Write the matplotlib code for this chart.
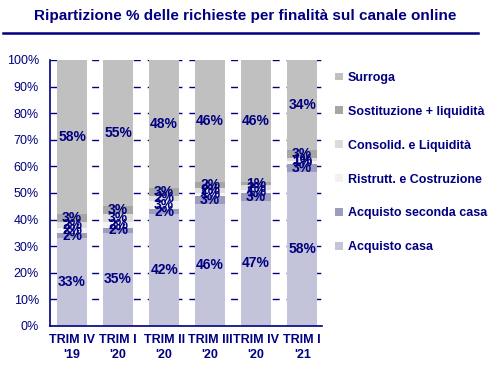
import matplotlib.pyplot as plt
from matplotlib.lines import Line2D
from matplotlib.ticker import PercentFormatter
import numpy as np

plt.rcParams["font.family"] = ["Liberation Sans", "DejaVu Sans"]
navy = "#000080"

quarters = ["TRIM IV\n'19", "TRIM I\n'20", "TRIM II\n'20", "TRIM III\n'20", "TRIM IV\n'20", "TRIM I\n'21"]
categories = ["Acquisto casa", "Acquisto seconda casa", "Ristrutt. e Costruzione",
              "Consolid. e Liquidità", "Sostituzione + liquidità", "Surroga"]
acquisto_casa = [33, 35, 42, 46, 47, 58]
seconda_casa = [2, 2, 2, 3, 3, 3]
ristrutt = [2, 2, 3, 1, 1, 1]
consolid = [2, 3, 2, 2, 2, 1]
sostituzione = [3, 3, 3, 2, 1, 3]
surroga = [58, 55, 48, 46, 46, 34]
series = [acquisto_casa, seconda_casa, ristrutt, consolid, sostituzione, surroga]
colors = ["#c3c3d9", "#9c9cbd", "#f2f2f2", "#dcdcdc", "#a6a6a6", "#c0c0c0"]

fig = plt.figure(figsize=(5, 3.7), dpi=100)
ax = fig.add_axes([0.10, 0.119, 0.544, 0.719])

x = np.arange(len(quarters))
bottom = np.zeros(len(quarters))
handles = []
for vals, col, name in zip(series, colors, categories):
    bars = ax.bar(x, vals, 0.65, bottom=bottom, color=col, label=name, zorder=2)
    handles.append(bars)
    for xi, b, v in zip(x, bottom, vals):
        ax.text(xi, b + v / 2, f"{v}%", ha="center", va="center", color=navy,
                fontsize=10, fontweight="bold", zorder=3)
    bottom += np.array(vals)

ax.set_xlim(-0.48, 5.43)
ax.set_ylim(0, 100)
ax.set_yticks(range(0, 101, 10))
ax.yaxis.set_major_formatter(PercentFormatter(decimals=0))
ax.set_xticks(x)
ax.set_xticklabels(quarters, fontsize=9, fontweight="bold", color=navy, linespacing=1.3)
ax.tick_params(axis="y", labelsize=9, labelcolor=navy, length=0, pad=8)
ax.tick_params(axis="x", length=0, pad=6)
ax.grid(axis="y", color=navy, linestyle=(0, (5, 5)), linewidth=1, zorder=0)
ax.set_axisbelow(True)
for s in ["top", "right"]:
    ax.spines[s].set_visible(False)
for s in ["left", "bottom"]:
    ax.spines[s].set_color(navy)
    ax.spines[s].set_linewidth(1.2)

leg = fig.legend(handles[::-1], categories[::-1], loc="upper left",
                 bbox_to_anchor=(0.648, 0.836), frameon=False,
                 handlelength=0.6, handleheight=0.6, handletextpad=0.4,
                 labelspacing=1.75, prop={"size": 9, "weight": "bold"})
for t in leg.get_texts():
    t.set_color(navy)

fig.text(0.49, 0.958, "Ripartizione % delle richieste per finalità sul canale online",
         ha="center", va="center", fontsize=11, fontweight="bold", color=navy)
fig.add_artist(Line2D([0.005, 0.955], [0.91, 0.91], color=navy, linewidth=1.8))

fig.savefig("out.png", dpi=100)
